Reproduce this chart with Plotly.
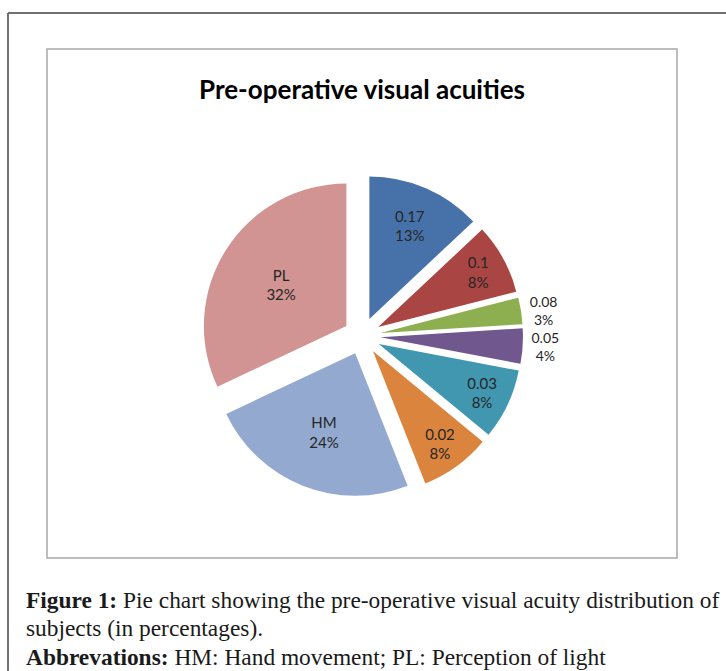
import plotly.graph_objects as go

W, H = 726, 671

labels = ["0.17", "0.1", "0.08", "0.05", "0.03", "0.02", "HM", "PL"]
values = [13, 8, 3, 4, 8, 8, 24, 32]
colors = ["#4672A9", "#A94543", "#8DAF50", "#70588F", "#4197AF", "#DA843E", "#93A9D0", "#D29493"]
text_pos = ["inside", "inside", "outside", "outside", "inside", "inside", "inside", "inside"]
text_size = [15, 15, 14, 14, 15, 15, 15, 15]

title_text = "Pre-operative visual acuities"
caption_lines = [
    "<b>Figure 1:</b> Pie chart showing the pre-operative visual acuity distribution of",
    "subjects (in percentages).",
    "<b>Abbrevations:</b> HM: Hand movement; PL: Perception of light",
]

def px(x):
    return x / W

def py(y):
    return 1 - y / H

cx, cy, D = 362, 336, 322

fig = go.Figure(go.Pie(
    labels=labels,
    values=values,
    sort=False,
    direction="clockwise",
    rotation=0,
    pull=[0.13] * len(values),
    marker=dict(colors=colors, line=dict(width=0)),
    texttemplate="%{label}<br>%{percent:.0%}",
    textposition=text_pos,
    insidetextorientation="horizontal",
    textfont=dict(family="Lato, Roboto, Arial", size=text_size, color="#262626"),
    hoverinfo="label+percent",
    showlegend=False,
    domain=dict(x=[px(cx - D / 2), px(cx + D / 2)], y=[py(cy + D / 2), py(cy - D / 2)]),
))

shapes = [
    dict(type="line", xref="paper", yref="paper", x0=px(8), x1=px(8), y0=py(13), y1=py(H + 5),
         line=dict(color="#707070", width=2)),
    dict(type="line", xref="paper", yref="paper", x0=px(8), x1=px(W + 5), y0=py(13), y1=py(13),
         line=dict(color="#707070", width=2)),
    dict(type="rect", xref="paper", yref="paper", x0=px(47), x1=px(677), y0=py(49), y1=py(558),
         line=dict(color="#A8A8A8", width=1.5)),
]

annotations = [
    dict(text="<b>" + title_text + "</b>", x=px(362), y=py(89), xref="paper", yref="paper",
         showarrow=False, xanchor="center", yanchor="middle",
         font=dict(family="Lato, Roboto, Arial", size=26, color="#000000")),
]
cap_y = [600, 628, 657]
for t, yy in zip(caption_lines, cap_y):
    annotations.append(dict(text=t, x=px(24), y=py(yy), xref="paper", yref="paper",
                            showarrow=False, xanchor="left", yanchor="middle",
                            font=dict(family="Liberation Serif, DejaVu Serif, serif", size=23.4, color="#1a1a1a")))

fig.update_layout(
    width=W, height=H,
    margin=dict(l=0, r=0, t=0, b=0),
    paper_bgcolor="white",
    plot_bgcolor="white",
    shapes=shapes,
    annotations=annotations,
)

fig.write_html("out.html")
